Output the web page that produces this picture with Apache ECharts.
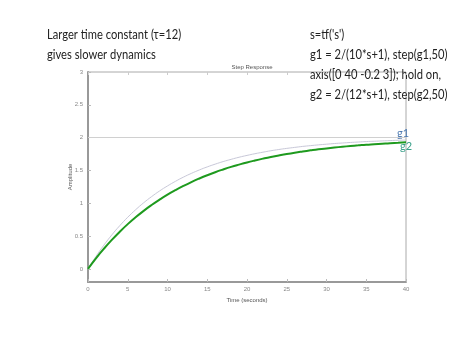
<!DOCTYPE html>
<html><head><meta charset="utf-8">
<script src="https://cdn.jsdelivr.net/npm/echarts@6/dist/echarts.min.js"></script>
<style>html,body{margin:0;padding:0;background:#fff}#c{width:474px;height:355px}</style>
</head><body><div id="c"></div>
<script>
const times = [0,1,2,3,4,5,6,7,8,9,10,11,12,13,14,15,16,17,18,19,20,21,22,23,24,25,26,27,28,29,30,31,32,33,34,35,36,37,38,39,40];
const g1 = [0,0.19,0.362,0.518,0.659,0.787,0.902,1.007,1.101,1.187,1.264,1.334,1.398,1.455,1.507,1.554,1.596,1.635,1.669,1.701,1.729,1.755,1.778,1.800,1.819,1.836,1.851,1.866,1.878,1.890,1.900,1.910,1.918,1.926,1.933,1.940,1.945,1.950,1.955,1.960,1.963];
const g2 = [0,0.160,0.307,0.442,0.567,0.682,0.787,0.884,0.973,1.055,1.131,1.200,1.264,1.323,1.377,1.427,1.473,1.515,1.554,1.589,1.622,1.652,1.680,1.706,1.729,1.751,1.771,1.789,1.806,1.822,1.836,1.849,1.861,1.872,1.882,1.892,1.900,1.908,1.916,1.922,1.929];
const xTicks = [0,5,10,15,20,25,30,35,40];
const yTicks = [0,0.5,1,1.5,2,2.5,3];
const steadyState = 2;
const chartTitle = 'Step Response';
const xName = 'Time (seconds)';
const yName = 'Amplitude';
const noteLeft = ['Larger time constant (\u03C4=12)', 'gives slower dynamics'];
const noteRight = ["s=tf('s')", 'g1 = 2/(10*s+1), step(g1,50)', 'axis([0 40 -0.2 3]); hold on,', 'g2 = 2/(12*s+1), step(g2,50)'];

const chart = echarts.init(document.getElementById('c'));
const tickLbl = {fontSize: 6, color: '#888', fontFamily: 'Liberation Sans'};
const font = 'Lato';
chart.setOption({
  animation: false,
  title: {text: chartTitle, left: 247, top: 59, textAlign: 'center',
    textStyle: {fontSize: 6, fontWeight: 'normal', color: '#555', fontFamily: 'Liberation Sans'}},
  grid: {left: 88, right: 68, top: 72, bottom: 73, show: true, borderColor: '#aaa', borderWidth: 1, backgroundColor: '#fff'},
  xAxis: [{
    type: 'value', min: 0, max: 40, interval: 5,
    name: xName, nameLocation: 'middle', nameGap: 12,
    nameTextStyle: {fontSize: 6, color: '#555', fontFamily: 'Liberation Sans'},
    axisLine: {onZero: false, lineStyle: {color: '#999', width: 2}},
    axisTick: {inside: true, length: 3, lineStyle: {color: '#bbb'}},
    axisLabel: Object.assign({margin: 4}, tickLbl),
    splitLine: {show: false}
  }, {
    type: 'value', min: 0, max: 40, interval: 5, position: 'top',
    axisLine: {show: false, onZero: false},
    axisTick: {inside: true, length: 3, lineStyle: {color: '#ccc'}},
    axisLabel: {show: false}, splitLine: {show: false}
  }],
  yAxis: [{
    type: 'value', min: -0.2, max: 3,
    name: yName, nameLocation: 'middle', nameGap: 15, nameRotate: 90, nameMoveOverlap: false,
    nameTextStyle: {fontSize: 6, color: '#555', fontFamily: 'Liberation Sans'},
    axisLine: {show: true, onZero: false, lineStyle: {color: '#999', width: 2}},
    axisTick: {inside: true, length: 3, lineStyle: {color: '#bbb'}, customValues: yTicks},
    axisLabel: Object.assign({margin: 5, customValues: yTicks}, tickLbl),
    splitLine: {show: false}
  }],
  series: [
    {type: 'line', data: times.map((t, i) => [t, g1[i]]), symbol: 'none', smooth: true,
      lineStyle: {color: '#c8c8d8', width: 1}, z: 2,
      markLine: {silent: true, symbol: 'none', label: {show: false},
        lineStyle: {color: '#d0d0d0', width: 1, type: 'solid'}, data: [{yAxis: steadyState}]}},
    {type: 'line', data: times.map((t, i) => [t, g2[i]]), symbol: 'none', smooth: true,
      lineStyle: {color: '#1e9a1e', width: 2}, z: 3}
  ],
  graphic: [
    {type: 'text', x: 47, y: 25, scaleX: 0.86, style: {text: noteLeft.join('\n'), font: '13px ' + font, fill: '#222', lineHeight: 20}},
    {type: 'text', x: 310, y: 25, scaleX: 0.86, style: {text: noteRight.join('\n'), font: '13px ' + font, fill: '#222', lineHeight: 20}},
    {type: 'text', left: 397, top: 128, style: {text: 'g1', font: '11px ' + font, fill: '#4a78b0'}},
    {type: 'text', left: 400, top: 141, style: {text: 'g2', font: '11px ' + font, fill: '#3aa08a'}}
  ]
});
</script></body></html>
